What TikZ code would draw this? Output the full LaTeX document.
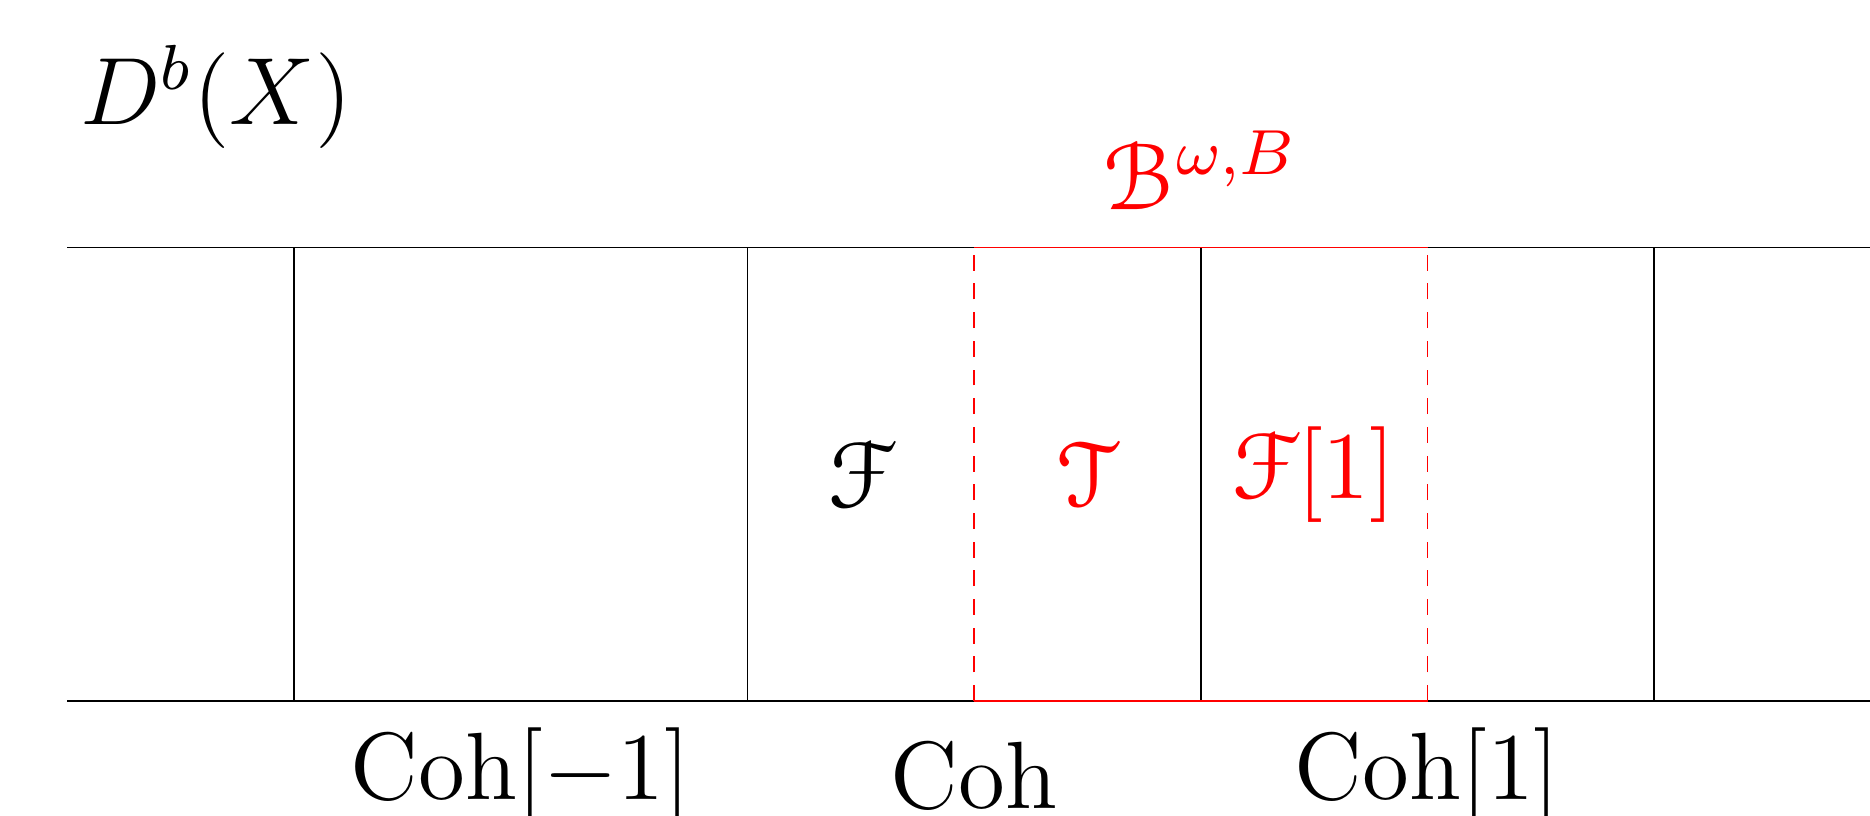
\documentclass[tikz,border=0pt]{standalone}
\usepackage[mathcal]{eucal}
\begin{document}
\begin{tikzpicture}[x=1cm,y=1cm,
 every node/.style={font=\large,inner sep=1pt},
 rule/.style={line width=0.2pt},
 redrule/.style={red,line width=0.2pt},
 reddash/.style={red,line width=0.2pt,dash pattern=on 2pt off 1.6pt}]
 \useasboundingbox (-1.297,-0.503) rectangle (6.952,3.092);
 \draw[rule] (-1,0)--(7,0);
 \draw[rule] (-1,2)--(7,2);
 \foreach \x in {0,2,4,6} \draw[rule] (\x,0)--(\x,2);
 \draw[redrule] (3,0)--(5,0);
 \draw[redrule] (3,2)--(5,2);
 \draw[reddash] (3,0)--(3,2);
 \draw[reddash] (5,0)--(5,2);
 \node[anchor=base] (dbx) at (-0.345,2.545) {$D^b(X)$};
 \node[anchor=base,red] (heart) at (4,2.17) {$\mathcal{B}^{\omega,B}$};
 \node (sheaf) at (2.5,1) {$\mathcal{F}$};
 \node[red] (tors) at (3.5,1) {$\mathcal{T}$};
 \node[red] (shift) at (4.5,1) {$\mathcal{F}[1]$};
 \node (cohm) at (1,-0.33) {$\mathrm{Coh}[-1]$};
 \node (coh) at (3,-0.33) {$\mathrm{Coh}$};
 \node (cohp) at (5,-0.33) {$\mathrm{Coh}[1]$};
\end{tikzpicture}
\end{document}
